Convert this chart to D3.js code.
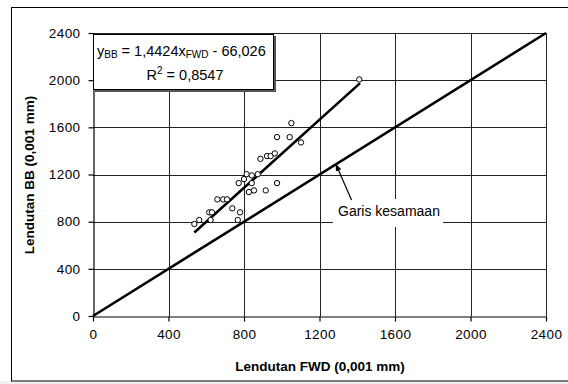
<!DOCTYPE html>
<html><head><meta charset="utf-8">
<script src="https://cdn.jsdelivr.net/npm/d3@7"></script>
<style>body{margin:0;background:#fff}svg{display:block}text{font-family:"Liberation Sans",Arial,sans-serif}</style>
</head><body><svg id="c" width="568" height="384"></svg>
<script>
const xTicks=[0,400,800,1200,1600,2000,2400];
const yTicks=[0,400,800,1200,1600,2000,2400];
const fwd=[537,563,616,630,623,659,690,710,738,779,767,772,800,814,841,841,826,853,873,887,922,941,963,915,975,975,1042,1051,1102,1411];
const bb=[780,814,879,879,814,989,989,989,913,879,814,1127,1161,1203,1192,1127,1051,1065,1203,1333,1356,1356,1379,1065,1127,1517,1517,1636,1472,2006];
const slope=1.4424, intercept=-66.026;
const fitRange=[537,1415];
const identity=[0,2400];

const svg=d3.select("#c");
const x=d3.scaleLinear().domain([0,2400]).range([93,546]);
const y=d3.scaleLinear().domain([0,2400]).range([316,33]);

svg.append("rect").attr("x",0).attr("y",381).attr("width",568).attr("height",3).attr("fill","#f0f0f0");
svg.append("rect").attr("x",11.5).attr("y",7.5).attr("width",570).attr("height",373.5).attr("fill","none").attr("stroke","#000").attr("stroke-width",1);

// grid
const g=svg.append("g");
g.selectAll(".hg").data(yTicks.slice(1)).join("line")
 .attr("x1",x(0)).attr("x2",x(2400)).attr("y1",d=>Math.round(y(d))+0.5).attr("y2",d=>Math.round(y(d))+0.5)
 .attr("stroke","#222").attr("stroke-width",1);
g.selectAll(".vg").data(xTicks.slice(1)).join("line")
 .attr("y1",y(0)).attr("y2",y(2400)).attr("x1",d=>Math.round(x(d))+0.5).attr("x2",d=>Math.round(x(d))+0.5)
 .attr("stroke","#222").attr("stroke-width",1);

// axes
const fmt=d3.format("d");
const xa=svg.append("g").attr("transform",`translate(0,${Math.round(y(0))+0.5})`)
 .call(d3.axisBottom(x).tickValues(xTicks).tickFormat(fmt).tickSize(5).tickSizeOuter(0).tickPadding(8));
const ya=svg.append("g").attr("transform",`translate(${Math.round(x(0))+0.5},0)`)
 .call(d3.axisLeft(y).tickValues(yTicks).tickFormat(fmt).tickSize(5).tickSizeOuter(0).tickPadding(8));
[xa,ya].forEach(a=>{a.selectAll("path,line").attr("stroke","#000").attr("stroke-width",1.2);
 a.selectAll("text").attr("font-size",13.5).attr("letter-spacing",0.4).attr("fill","#000").attr("font-family","Liberation Sans, Arial, sans-serif");});

// identity line
svg.append("line").attr("x1",x(identity[0])).attr("y1",y(identity[0])).attr("x2",x(identity[1])).attr("y2",y(identity[1]))
 .attr("stroke","#000").attr("stroke-width",2.6);
// regression line
svg.append("line").attr("x1",x(fitRange[0])).attr("y1",y(slope*fitRange[0]+intercept))
 .attr("x2",x(fitRange[1])).attr("y2",y(slope*fitRange[1]+intercept))
 .attr("stroke","#000").attr("stroke-width",2.6);

// points
svg.selectAll(".pt").data(fwd.map((v,i)=>[v,bb[i]])).join("circle")
 .attr("cx",d=>x(d[0])).attr("cy",d=>y(d[1])).attr("r",2.7)
 .attr("fill","#fff").attr("stroke","#000").attr("stroke-width",1);

// equation box
svg.append("rect").attr("x",95).attr("y",36).attr("width",181).attr("height",56).attr("fill","#555");
svg.append("rect").attr("x",93.5).attr("y",34.5).attr("width",180).attr("height",55).attr("fill","#fff").attr("stroke","#000").attr("stroke-width",1);
const eq=svg.append("text").attr("x",97).attr("y",56).attr("font-size",14.5).attr("fill","#000");
eq.append("tspan").text("y");
eq.append("tspan").attr("font-size",10).attr("dy",2).text("BB");
eq.append("tspan").attr("dy",-2).text(" = 1,4424x");
eq.append("tspan").attr("font-size",10).attr("dy",2).text("FWD");
eq.append("tspan").attr("dy",-2).text(" - 66,026");
const r2=svg.append("text").attr("x",185).attr("y",80).attr("text-anchor","middle").attr("font-size",14.5).attr("fill","#000");
r2.append("tspan").text("R");
r2.append("tspan").attr("font-size",10).attr("dy",-6).text("2");
r2.append("tspan").attr("dy",6).text(" = 0,8547");

// annotation
svg.append("rect").attr("x",333).attr("y",199).attr("width",110).attr("height",28).attr("fill","#fff");
svg.append("text").attr("x",338).attr("y",216).attr("font-size",14).attr("fill","#000").text("Garis kesamaan");
svg.append("defs").append("marker").attr("id","ah").attr("viewBox","0 0 10 10").attr("refX",9).attr("refY",5)
 .attr("markerWidth",6).attr("markerHeight",6).attr("orient","auto")
 .append("path").attr("d","M0,1 L10,5 L0,9 z").attr("fill","#000");
svg.append("line").attr("x1",351.5).attr("y1",200).attr("x2",336).attr("y2",164.5)
 .attr("stroke","#000").attr("stroke-width",1.2).attr("marker-end","url(#ah)");

// axis titles
svg.append("text").attr("x",320).attr("y",371).attr("text-anchor","middle").attr("font-size",13.5).attr("font-weight","bold").attr("fill","#000").text("Lendutan FWD (0,001 mm)");
svg.append("text").attr("transform","translate(34,175) rotate(-90)").attr("text-anchor","middle").attr("font-size",13.5).attr("font-weight","bold").attr("fill","#000").text("Lendutan BB (0,001 mm)");
</script></body></html>
